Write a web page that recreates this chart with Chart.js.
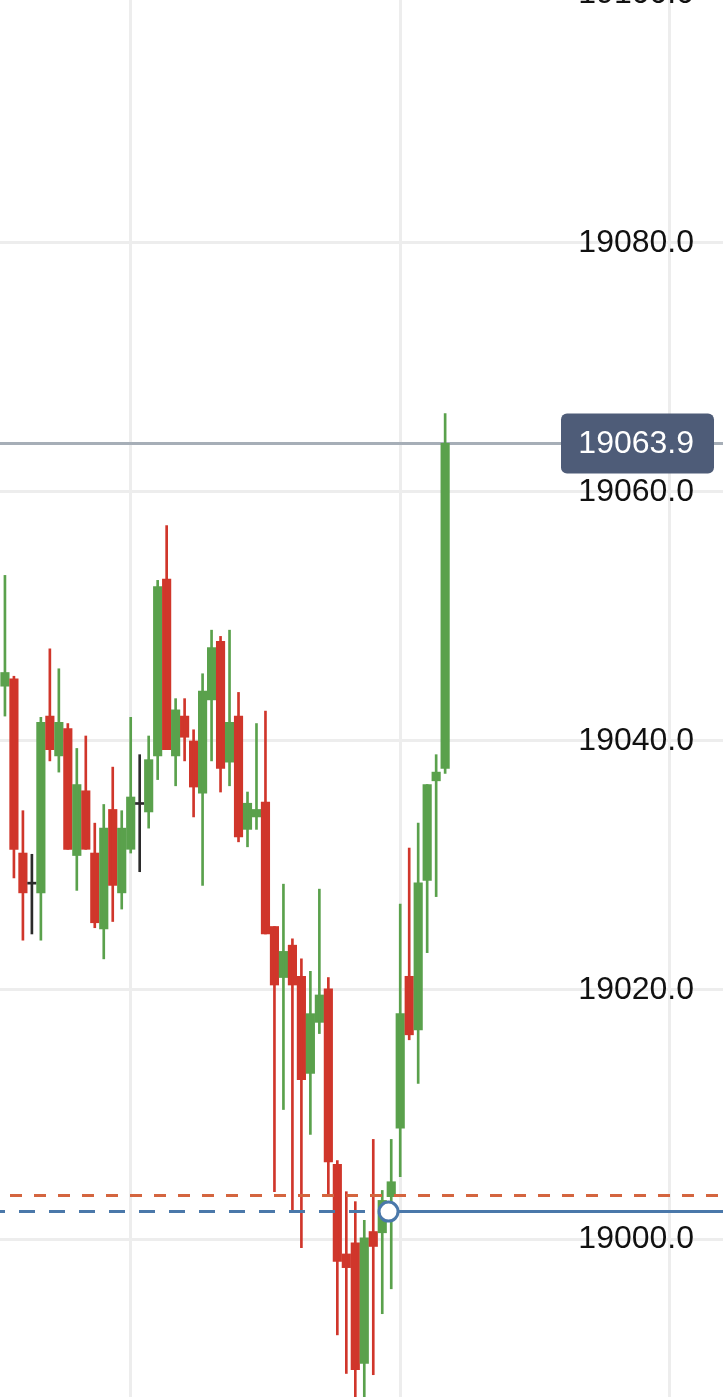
<!DOCTYPE html>
<html>
<head>
<meta charset="utf-8">
<script src="https://cdn.jsdelivr.net/npm/chart.js@4.4.1/dist/chart.umd.min.js"></script>
<style>
  html, body { margin: 0; padding: 0; background: #fff; overflow: hidden; }
  #wrap { width: 723px; height: 1397px; overflow: hidden; position: relative; }
  #chart { position: absolute; left: 0; top: -20px; }
</style>
</head>
<body>
<div id="wrap"><canvas id="chart" width="723" height="1417"></canvas></div>
<script>
// candle values, one entry per bar (index = position on the time axis)
const opens  = [19044.4, 19045.0, 19031.0, 19028.5, 19027.8, 19042.0, 19038.8, 19041.0, 19030.8, 19036.0,
                19031.0, 19024.9, 19034.5, 19027.8, 19031.3, 19034.9, 19034.3, 19038.8, 19053.0, 19038.8,
                19042.0, 19040.0, 19035.8, 19043.3, 19048.0, 19038.3, 19042.0, 19032.9, 19033.9, 19035.1,
                19025.1, 19021.0, 19023.6, 19021.1, 19013.3, 19017.4, 19020.1, 19006.0, 18998.8, 18999.7,
                18990.0, 19000.6, 19000.5, 19003.4, 19008.9, 19021.1, 19016.8, 19028.8, 19036.8, 19037.8];
const highs  = [19053.3, 19045.2, 19034.4, 19030.9, 19041.9, 19047.4, 19045.8, 19041.4, 19039.4, 19040.4,
                19033.4, 19034.9, 19037.9, 19034.4, 19041.9, 19038.9, 19040.4, 19052.9, 19057.3, 19043.4,
                19043.4, 19040.9, 19045.4, 19048.9, 19048.4, 19048.9, 19043.9, 19035.9, 19041.4, 19042.4,
                19025.1, 19028.5, 19024.1, 19022.5, 19021.5, 19028.1, 19021.0, 19006.3, 19003.8, 19003.0,
                19001.5, 19008.0, 19003.9, 19008.0, 19026.9, 19031.4, 19033.4, 19036.5, 19038.9, 19066.3];
const lows   = [19042.0, 19029.0, 19024.0, 19024.5, 19024.0, 19038.4, 19037.5, 19031.3, 19028.0, 19031.3,
                19025.0, 19022.5, 19025.5, 19026.5, 19031.0, 19029.5, 19033.0, 19036.9, 19039.3, 19036.4,
                19038.4, 19033.9, 19028.4, 19038.4, 19035.9, 19036.4, 19031.9, 19031.5, 19032.9, 19024.5,
                19003.8, 19010.4, 19002.3, 18999.3, 19008.4, 19016.5, 19003.4, 18992.3, 18989.2, 18987.0,
                18987.0, 18989.1, 18994.0, 18996.0, 19005.0, 19016.0, 19012.5, 19023.0, 19027.5, 19037.4];
const closes = [19045.5, 19031.3, 19027.8, 19028.5, 19041.5, 19039.3, 19041.5, 19031.3, 19036.5, 19031.3,
                19025.4, 19033.0, 19028.4, 19033.0, 19035.5, 19034.9, 19038.5, 19052.4, 19039.3, 19042.5,
                19040.3, 19036.3, 19044.0, 19047.5, 19037.8, 19041.5, 19032.3, 19035.0, 19034.5, 19024.5,
                19020.4, 19023.1, 19020.4, 19012.8, 19018.1, 19019.6, 19006.2, 18998.2, 18997.7, 18989.5,
                19000.1, 18999.4, 19003.1, 19004.6, 19018.1, 19016.4, 19028.6, 19036.5, 19037.5, 19063.9];

const yTicks = [19000, 19020, 19040, 19060, 19080, 19100];
const gridCandles = [14, 44, 74];
const lastPrice = 19063.9;
const positionPrice = 19002.2;
const orderPrice = 19003.5;
const markerIndex = 42.7;

const xMin = -0.55, xMax = 79.93;
const yMin = 18987.31, yMax = 19101.12;

const UP = '#5aa14c';
const DOWN = '#d0362b';
const FLAT = '#2b2b2b';

function candleColor(i) {
  if (closes[i] > opens[i]) return UP;
  if (closes[i] < opens[i]) return DOWN;
  return FLAT;
}

const wicks = opens.map((o, i) => ({ x: i, y: [lows[i], highs[i]] }));
const bodies = opens.map((o, i) => ({ x: i, y: [Math.min(o, closes[i]), Math.max(o, closes[i])] }));

const priceTag = {
  id: 'priceTag',
  afterDatasetsDraw(chart) {
    const ctx = chart.ctx;
    const y = chart.scales.y.getPixelForValue(lastPrice);
    ctx.save();
    ctx.fillStyle = '#4e5c78';
    ctx.beginPath();
    if (ctx.roundRect) ctx.roundRect(561, y - 30, 153, 60, 6);
    else ctx.rect(561, y - 30, 153, 60);
    ctx.fill();
    ctx.fillStyle = '#ffffff';
    ctx.font = '32px "Liberation Sans", Arial, sans-serif';
    ctx.textAlign = 'right';
    ctx.textBaseline = 'middle';
    ctx.fillText(lastPrice.toFixed(1), 694, y + 1);
    ctx.restore();
  }
};

new Chart(document.getElementById('chart'), {
  type: 'bar',
  data: {
    datasets: [
      {
        type: 'line',
        data: [{ x: xMin, y: lastPrice }, { x: xMax, y: lastPrice }],
        borderColor: '#a6aeb7',
        borderWidth: 3,
        pointRadius: 0,
        order: 3
      },
      {
        label: 'wicks',
        data: wicks,
        backgroundColor: ctx => candleColor(ctx.dataIndex),
        barThickness: 2,
        grouped: false,
        order: 2
      },
      {
        label: 'bodies',
        data: bodies,
        backgroundColor: ctx => candleColor(ctx.dataIndex),
        barThickness: 8.5,
        minBarLength: 2,
        grouped: false,
        order: 2
      },
      {
        type: 'line',
        data: [{ x: xMin, y: orderPrice }, { x: xMax, y: orderPrice }],
        borderColor: '#d4653f',
        borderWidth: 3,
        borderDash: [12, 12],
        borderDashOffset: 14,
        pointRadius: 0,
        order: 1
      },
      {
        type: 'line',
        data: [{ x: xMin, y: positionPrice }, { x: markerIndex, y: positionPrice }],
        borderColor: '#4a78aa',
        borderWidth: 3,
        borderDash: [16, 14],
        borderDashOffset: 11,
        pointRadius: 0,
        order: 1
      },
      {
        type: 'line',
        data: [{ x: markerIndex, y: positionPrice }, { x: xMax, y: positionPrice }],
        borderColor: '#4a78aa',
        borderWidth: 3,
        pointRadius: 0,
        order: 1
      },
      {
        type: 'line',
        data: [{ x: markerIndex, y: positionPrice }],
        showLine: false,
        pointRadius: 9.5,
        pointBackgroundColor: '#ffffff',
        pointBorderColor: '#4a78aa',
        pointBorderWidth: 3,
        order: 0
      }
    ]
  },
  options: {
    responsive: false,
    animation: false,
    events: [],
    layout: { padding: 0, autoPadding: false },
    plugins: {
      legend: { display: false },
      tooltip: { enabled: false }
    },
    scales: {
      x: {
        type: 'linear',
        offset: false,
        min: xMin,
        max: xMax,
        afterBuildTicks: scale => { scale.ticks = gridCandles.map(v => ({ value: v })); },
        afterFit: scale => { scale.height = 0; },
        ticks: { display: false },
        grid: { color: '#ededed', lineWidth: 3, offset: false, drawTicks: false },
        border: { display: false }
      },
      y: {
        position: 'right',
        min: yMin,
        max: yMax,
        afterBuildTicks: scale => { scale.ticks = yTicks.map(v => ({ value: v })); },
        afterFit: scale => { scale.width = 0; },
        ticks: {
          mirror: true,
          padding: -29,
          color: '#111111',
          font: { family: '"Liberation Sans", Arial, sans-serif', size: 32 },
          callback: value => Number(value).toFixed(1)
        },
        grid: { color: '#ededed', lineWidth: 3, drawTicks: false },
        border: { display: false }
      }
    }
  },
  plugins: [priceTag]
});
</script>
</body>
</html>
